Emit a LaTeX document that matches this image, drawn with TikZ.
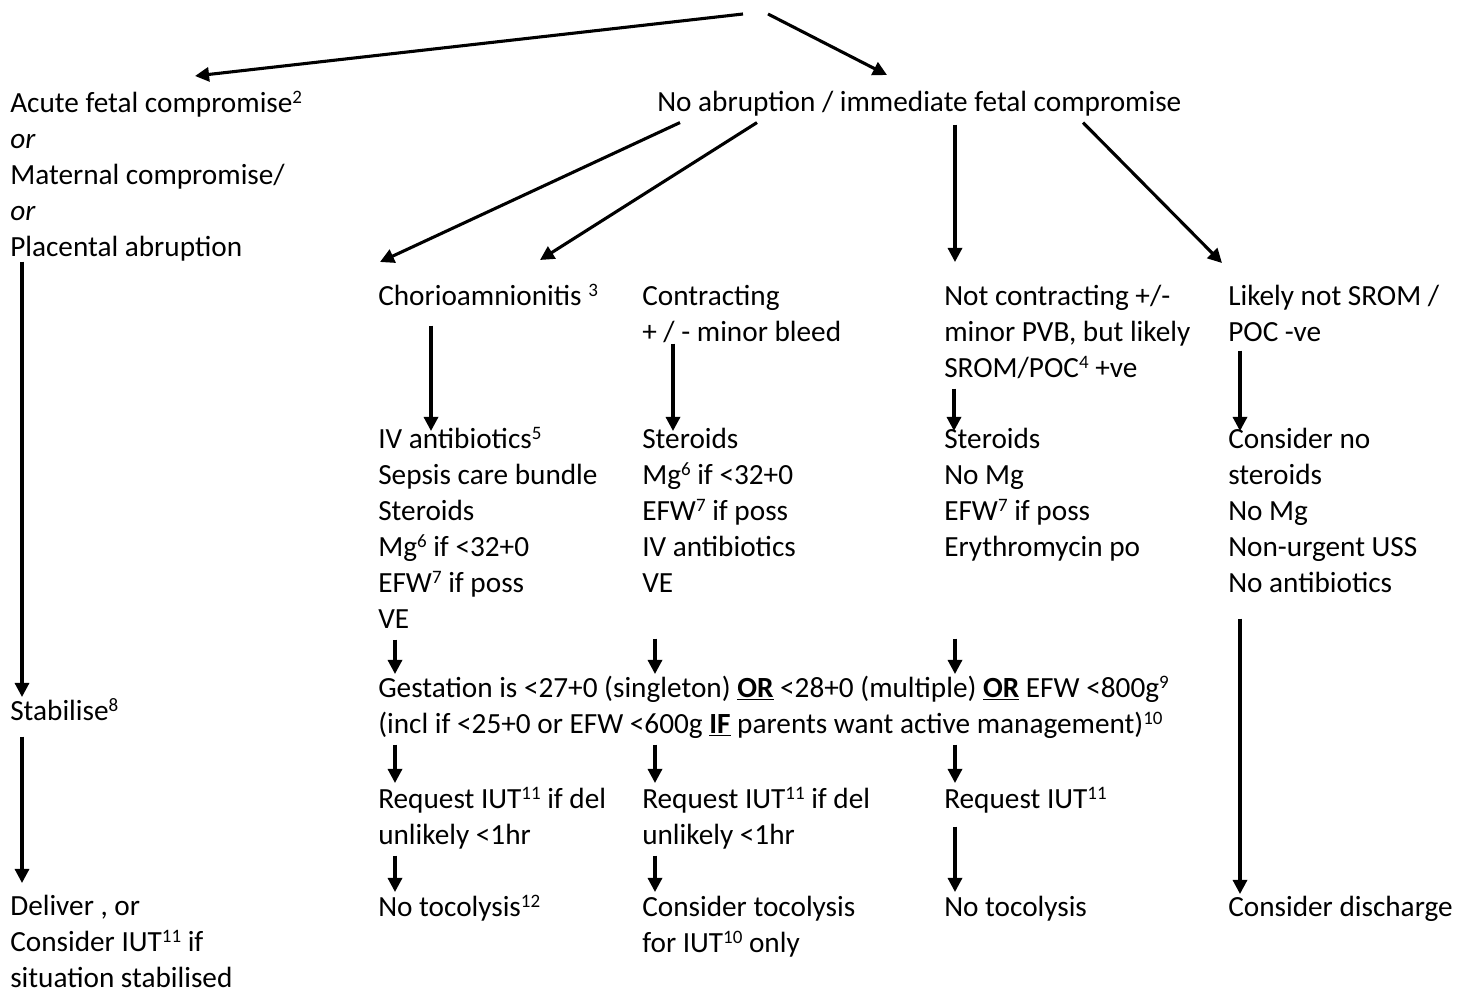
\documentclass[tikz,border=0pt]{standalone}
\usepackage{fontspec}
\setmainfont{Carlito}
\usetikzlibrary{calc,arrows.meta}
\newcommand\sps[1]{\raisebox{0.3em}{\fontsize{13.5}{13.5}\selectfont #1}}

\begin{document}
\begin{tikzpicture}[x=0.025cm,y=-0.025cm,
	txt/.style={anchor=north west,inner sep=0pt,align=left,font=\fontsize{20.8}{25.6}\selectfont,execute at end node=\strut},
	arr/.style={line width=2.2pt,-{Triangle[length=10pt,width=10pt]}}]
		\useasboundingbox (0,0) rectangle (1469,992);
		\node[txt] (acute) at (10,87) {\strut Acute fetal compromise\sps{2}\\\textit{or}\\Maternal compromise/\\\textit{or}\\Placental abruption};
		\node[txt] (noab) at (657,86) {\strut No abruption / immediate fetal compromise};
		\node[txt] (chorio) at (378,280) {\strut Chorioamnionitis \sps{3}};
		\node[txt] (contr) at (642,280) {\strut Contracting\\+ / - minor bleed};
		\node[txt] (notcon) at (944,280) {\strut Not contracting +/-\\minor PVB, but likely\\SROM/POC\sps{4} +ve};
		\node[txt] (likely) at (1228,280) {\strut Likely not SROM /\\POC -ve};
		\node[txt] (sepsis) at (378,423) {\strut IV antibiotics\sps{5}\\Sepsis care bundle\\Steroids\\Mg\sps{6} if <32+0\\EFW\sps{7} if poss\\VE};
		\node[txt] (mgcon) at (642,423) {\strut Steroids\\Mg\sps{6} if <32+0\\EFW\sps{7} if poss\\IV antibiotics\\VE};
		\node[txt] (erythro) at (944,423) {\strut Steroids\\No Mg\\EFW\sps{7} if poss\\Erythromycin po};
		\node[txt] (nosteroid) at (1228,423) {\strut Consider no\\steroids\\No Mg\\Non-urgent USS\\No antibiotics};
		\node[txt] (gest) at (378,672) {\strut Gestation is <27+0 (singleton) \textbf{\underline{OR}} <28+0 (multiple) \textbf{\underline{OR}} EFW <800g\sps{9}\\(incl if <25+0 or EFW <600g \textbf{\underline{IF}} parents want active management)\sps{10}};
		\node[txt] (stab) at (10,695) {\strut Stabilise\sps{8}};
		\node[txt] (iutA) at (378,783) {\strut Request IUT\sps{11} if del\\unlikely <1hr};
		\node[txt] (iutB) at (642,783) {\strut Request IUT\sps{11} if del\\unlikely <1hr};
		\node[txt] (iutC) at (944,783) {\strut Request IUT\sps{11}};
		\node[txt] (tocoA) at (378,891) {\strut No tocolysis\sps{12}};
		\node[txt] (tocoB) at (642,891) {\strut Consider tocolysis\\for IUT\sps{10} only};
		\node[txt] (tocoC) at (944,891) {\strut No tocolysis};
		\node[txt] (disch) at (1228,891) {\strut Consider discharge};
		\node[txt,execute at end node={}] (deliver) at (10,890) {\strut Deliver , or\\Consider IUT\sps{11} if\\situation stabilised};
		\coordinate (top) at (756,12);
		\draw[arr] ($(top)+(-13,2)$) -- ($(acute.north west)+(185,-11)$);
		\draw[arr] ($(top)+(12,2)$) -- ($(noab.north west)+(230,-11)$);
		\draw[arr] ($(noab.south west)+(23,0)$) -- ($(chorio.north west)+(2,-18)$);
		\draw[arr] ($(noab.south west)+(100,0)$) -- ($(contr.north west)+(-102,-20)$);
		\draw[arr] ($(noab.south west)+(298,2)$) -- ($(notcon.north west)+(11,-18)$);
		\draw[arr] ($(noab.south west)+(426,0)$) -- ($(likely.north west)+(-6,-17)$);
		\draw[arr] ($(acute.south west)+(12,-6)$) -- ($(stab.north west)+(12,2)$);
		\draw[arr] ($(stab.south west)+(12,5)$) -- ($(deliver.north west)+(12,-7)$);
		\draw[arr] ($(chorio.south west)+(53,9)$) -- ($(sepsis.north west)+(53,8)$);
		\draw[arr] ($(contr.south west)+(31,-9)$) -- ($(mgcon.north west)+(31,8)$);
		\draw[arr] ($(notcon.south west)+(10,0)$) -- ($(erythro.north west)+(10,8)$);
		\draw[arr] ($(likely.south west)+(12,-2)$) -- ($(nosteroid.north west)+(12,8)$);
		\draw[arr] ($(sepsis.south west)+(17,0)$) -- ($(gest.north west)+(17,2)$);
		\draw[arr] ($(mgcon.south west)+(13,35)$) -- ($(gest.north west)+(277,2)$);
		\draw[arr] ($(erythro.south west)+(11,71)$) -- ($(gest.north west)+(577,2)$);
		\draw[arr] ($(gest.south west)+(17,0)$) -- ($(iutA.north west)+(17,0)$);
		\draw[arr] ($(gest.south west)+(277,0)$) -- ($(iutB.north west)+(13,0)$);
		\draw[arr] ($(gest.south west)+(577,0)$) -- ($(iutC.north west)+(11,0)$);
		\draw[arr] ($(iutA.south west)+(17,0)$) -- ($(tocoA.north west)+(17,1)$);
		\draw[arr] ($(iutB.south west)+(13,0)$) -- ($(tocoB.north west)+(13,1)$);
		\draw[arr] ($(iutC.south west)+(11,7)$) -- ($(tocoC.north west)+(11,1)$);
		\draw[arr] ($(nosteroid.south west)+(12,15)$) -- ($(disch.north west)+(12,3)$);
	\end{tikzpicture}
\end{document}
